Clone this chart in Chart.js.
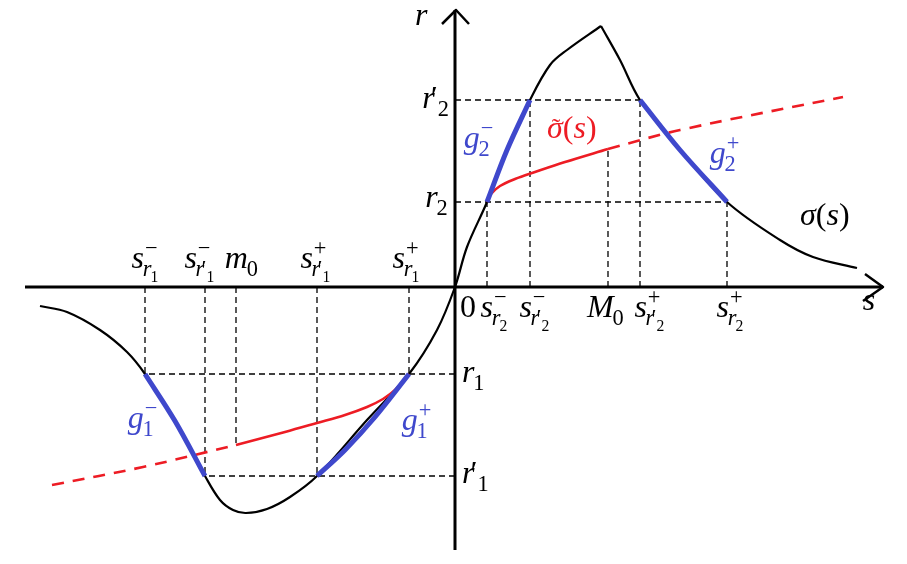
<!DOCTYPE html>
<html>
<head>
<meta charset="utf-8">
<script src="https://cdn.jsdelivr.net/npm/chart.js@4.4.1/dist/chart.umd.min.js"></script>
<style>
  html, body { margin: 0; padding: 0; background: #fff; }
  #wrap { width: 907px; height: 564px; position: relative; }
</style>
</head>
<body>
<div id="wrap"><canvas id="chart"></canvas></div>
<script>
// key abscissae on the s axis
const sR1m = -3.10, sR1pm = -2.50, m0 = -2.19, sR1pp = -1.38, sR1p = -0.46;
const sR2m = 0.32, sR2pm = 0.75, M0 = 1.53, sR2pp = 1.85, sR2p = 2.72;
// key levels on the r axis
const r1 = -0.87, r1p = -1.89, r2 = 0.85, r2p = 1.87;

// sigma(s), rising part up to the corner, then the falling tail
const sigmaRiseS = [-4.15, -3.88, -3.55, -3.28, sR1m, -2.80, sR1pm, -2.35, -2.22, -2.09, -1.88, -1.65, sR1pp, -0.88, sR1p, -0.18, 0, 0.12, sR2m, 0.52, sR2pm, 0.95, 1.12, 1.46];
const sigmaRiseR = [-0.19, -0.25, -0.43, -0.65, r1, -1.34, r1p, -2.13, -2.23, -2.26, -2.22, -2.10, r1p, -1.33, r1, -0.43, 0, 0.40, r2, 1.37, r2p, 2.22, 2.37, 2.61];
const sigmaFallS = [1.46, 1.65, sR2pp, 2.25, sR2p, 3.25, 3.58, 4.02];
const sigmaFallR = [2.61, 2.27, r2p, 1.37, r2, 0.47, 0.30, 0.19];

// the four branches g
const g1mS = [sR1m, -2.80, sR1pm];
const g1mR = [r1, -1.34, r1p];
const g1pS = [sR1pp, -1.10, -0.80, sR1p];
const g1pR = [r1p, -1.63, -1.30, r1];
const g2mS = [sR2m, 0.52, sR2pm];
const g2mR = [r2, 1.37, r2p];
const g2pS = [sR2pp, 2.25, sR2p];
const g2pR = [r2p, 1.37, r2];

// sigma tilde: solid pieces and dashed extensions
const tilLeftS = [m0, -1.70, sR1pp, -1.10, -0.88, -0.72, -0.60, sR1p];
const tilLeftR = [-1.58, -1.45, -1.36, -1.28, -1.20, -1.12, -1.03, r1];
const tilLeftDashS = [-4.03, -3.12, m0];
const tilLeftDashR = [-1.98, -1.80, -1.58];
const tilRightS = [sR2m, 0.36, 0.45, 0.60, 0.80, 1.10, M0];
const tilRightR = [r2, 0.93, 1.01, 1.08, 1.15, 1.25, 1.38];
const tilRightDashS = [M0, 2.25, 3.88];
const tilRightDashR = [1.38, 1.57, 1.90];

// dashed guides: vertical [s, r] and horizontal [r, s]
const guideV = [[sR1m, r1], [sR1pm, r1p], [m0, -1.58], [sR1pp, r1p], [sR1p, r1],
                [sR2m, r2], [sR2pm, r2p], [M0, 1.38], [sR2pp, r2p], [sR2p, r2]];
const guideH = [[r1, sR1m], [r1p, sR1pm], [r2p, sR2pp], [r2, sR2p]];

// axes
const sAxis = [-4.30, 4.28];
const rAxis = [-2.63, 2.77];

const BLACK = "#000", BLUE = "#3f48cc", RED = "#ed1c24";

function pts(xs, ys) { return xs.map((x, i) => ({ x: x, y: ys[i] })); }
function line(data, color, width, dash, order, smooth) {
    return {
        data: data, borderColor: color, borderWidth: width, borderDash: dash || [],
        showLine: true, pointRadius: 0, fill: false, order: order,
        tension: smooth ? 0.35 : 0,
        borderCapStyle: 'butt', borderJoinStyle: 'round', clip: false
    };
}

const datasets = [];
guideV.forEach(g => datasets.push(line([{ x: g[0], y: 0 }, { x: g[0], y: g[1] }], BLACK, 1.3, [6, 4], 5)));
guideH.forEach(g => datasets.push(line([{ x: 0, y: g[0] }, { x: g[1], y: g[0] }], BLACK, 1.3, [6, 4], 5)));
datasets.push(line([{ x: sAxis[0], y: 0 }, { x: sAxis[1], y: 0 }], BLACK, 3, [], 4));
datasets.push(line([{ x: 0, y: rAxis[0] }, { x: 0, y: rAxis[1] }], BLACK, 3, [], 4));
datasets.push(line([{ x: 4.10, y: 0.13 }, { x: sAxis[1], y: 0 }, { x: 4.08, y: -0.14 }], BLACK, 2.5, [], 4));
datasets.push(line([{ x: -0.13, y: 2.63 }, { x: 0.01, y: rAxis[1] }, { x: 0.14, y: 2.63 }], BLACK, 2.5, [], 4));
datasets.push(line(pts(sigmaRiseS, sigmaRiseR), BLACK, 2.2, [], 3, true));
datasets.push(line(pts(sigmaFallS, sigmaFallR), BLACK, 2.2, [], 3, true));
datasets.push(line(pts(tilLeftS, tilLeftR), RED, 2.6, [], 2, true));
datasets.push(line(pts(tilLeftDashS, tilLeftDashR), RED, 2.6, [12, 9], 2, true));
datasets.push(line(pts(tilRightS, tilRightR), RED, 2.6, [], 2, true));
datasets.push(line(pts(tilRightDashS, tilRightDashR), RED, 2.6, [12, 9], 2, true));
datasets.push(line(pts(g1mS, g1mR), BLUE, 5, [], 1, true));
datasets.push(line(pts(g1pS, g1pR), BLUE, 5, [], 1, true));
datasets.push(line(pts(g2mS, g2mR), BLUE, 5, [], 1, true));
datasets.push(line(pts(g2pS, g2pR), BLUE, 5, [], 1, true));

// math-like labels: tokens {t, it, sub, sup, tilde, kern}
const I = t => ({ t: t, it: true });
const sub = (tok, s, p) => Object.assign({}, tok, { sub: s, sup: p });
const prime = n => ({ t: '′', kern: -0.12, sub: [{ t: n }] });
const rp = n => [I('r'), prime(n)];
const labels = [
    { s: -0.40, r: 2.62, al: 'left', c: BLACK, toks: [I('r')] },
    { s: 4.14, r: -0.23, al: 'center', c: BLACK, toks: [I('s')] },
    { s: -0.06, r: 1.79, al: 'right', c: BLACK, toks: rp('2') },
    { s: -0.06, r: 0.80, al: 'right', c: BLACK, toks: [sub(I('r'), [{ t: '2' }])] },
    { s: 0.07, r: -0.95, al: 'left', c: BLACK, toks: [sub(I('r'), [{ t: '1' }])] },
    { s: 0.07, r: -1.96, al: 'left', c: BLACK, toks: rp('1') },
    { s: -3.09, r: 0.19, al: 'center', c: BLACK, toks: [sub(I('s'), [sub(I('r'), [{ t: '1' }])], [{ t: '−' }])] },
    { s: -2.55, r: 0.19, al: 'center', c: BLACK, toks: [sub(I('s'), rp('1'), [{ t: '−' }])] },
    { s: -2.13, r: 0.19, al: 'center', c: BLACK, toks: [sub(I('m'), [{ t: '0' }])] },
    { s: -1.39, r: 0.19, al: 'center', c: BLACK, toks: [sub(I('s'), rp('1'), [{ t: '+' }])] },
    { s: -0.48, r: 0.19, al: 'center', c: BLACK, toks: [sub(I('s'), [sub(I('r'), [{ t: '1' }])], [{ t: '+' }])] },
    { s: 0.13, r: -0.30, al: 'center', c: BLACK, toks: [{ t: '0' }] },
    { s: 0.40, r: -0.30, al: 'center', c: BLACK, toks: [sub(I('s'), [sub(I('r'), [{ t: '2' }])], [{ t: '−' }])] },
    { s: 0.80, r: -0.30, al: 'center', c: BLACK, toks: [sub(I('s'), rp('2'), [{ t: '−' }])] },
    { s: 1.51, r: -0.30, al: 'center', c: BLACK, toks: [sub(I('M'), [{ t: '0' }])] },
    { s: 1.95, r: -0.30, al: 'center', c: BLACK, toks: [sub(I('s'), rp('2'), [{ t: '+' }])] },
    { s: 2.76, r: -0.30, al: 'center', c: BLACK, toks: [sub(I('s'), [sub(I('r'), [{ t: '2' }])], [{ t: '+' }])] },
    { s: 3.45, r: 0.62, al: 'left', c: BLACK, toks: [I('σ'), { t: '(' }, I('s'), { t: ')' }] },
    { s: 0.92, r: 1.49, al: 'left', c: RED, toks: [Object.assign(I('σ'), { tilde: true }), { t: '(' }, I('s'), { t: ')' }] },
    { s: -3.13, r: -1.41, al: 'center', c: BLUE, toks: [sub(I('g'), [{ t: '1' }], [{ t: '−' }])] },
    { s: -0.39, r: -1.43, al: 'center', c: BLUE, toks: [sub(I('g'), [{ t: '1' }], [{ t: '+' }])] },
    { s: 0.23, r: 1.39, al: 'center', c: BLUE, toks: [sub(I('g'), [{ t: '2' }], [{ t: '−' }])] },
    { s: 2.69, r: 1.24, al: 'center', c: BLUE, toks: [sub(I('g'), [{ t: '2' }], [{ t: '+' }])] }
];

const FONT_SIZE = 32;
function fontFor(tok, size) {
    return (tok.it ? 'italic ' : '') + size.toFixed(1) + 'px "Liberation Serif", "DejaVu Serif", serif';
}
function tokWidth(ctx, tk, size) {
    ctx.font = fontFor(tk, size);
    const bw = ctx.measureText(tk.t).width + (tk.kern || 0) * size;
    const sw = tk.sub ? measure(ctx, tk.sub, size * 0.7) : 0;
    const pw = tk.sup ? measure(ctx, tk.sup, size * 0.7) : 0;
    return bw + Math.max(sw, pw);
}
function measure(ctx, toks, size) {
    return toks.reduce((w, tk) => w + tokWidth(ctx, tk, size), 0);
}
function drawToks(ctx, toks, x, y, size) {
    for (const tk of toks) {
        const k = (tk.kern || 0) * size;
        ctx.font = fontFor(tk, size);
        const bw = ctx.measureText(tk.t).width + k;
        ctx.fillText(tk.t, x + k, y);
        if (tk.tilde) {
            ctx.font = (size * 0.8).toFixed(1) + 'px "Liberation Serif", serif';
            ctx.fillText('˜', x + bw * 0.3, y - size * 0.06);
        }
        let sw = 0, pw = 0;
        if (tk.sub) sw = drawToks(ctx, tk.sub, x + bw - (tk.it ? size * 0.04 : 0), y + size * 0.26, size * 0.7) - (x + bw);
        if (tk.sup) pw = drawToks(ctx, tk.sup, x + bw + (tk.it ? size * 0.03 : 0), y - size * 0.42, size * 0.7) - (x + bw);
        x += bw + Math.max(sw, pw, 0);
    }
    return x;
}

const mathLabels = {
    id: 'mathLabels',
    afterDatasetsDraw(chart) {
        const ctx = chart.ctx, xs = chart.scales.x, ys = chart.scales.y;
        ctx.save();
        ctx.textBaseline = 'alphabetic';
        ctx.textAlign = 'left';
        for (const lb of labels) {
            const w = measure(ctx, lb.toks, FONT_SIZE);
            let px = xs.getPixelForValue(lb.s);
            if (lb.al === 'center') px -= w / 2;
            if (lb.al === 'right') px -= w;
            ctx.fillStyle = lb.c;
            drawToks(ctx, lb.toks, px, ys.getPixelForValue(lb.r), FONT_SIZE);
        }
        ctx.restore();
    }
};

new Chart(document.querySelector('#chart'), {
    type: 'scatter',
    data: { datasets: datasets },
    options: {
        responsive: true,
        maintainAspectRatio: false,
        animation: false,
        layout: { padding: 0 },
        plugins: { legend: { display: false }, tooltip: { enabled: false } },
        scales: {
            x: { type: 'linear', min: -4.55, max: 4.52, display: false },
            y: { type: 'linear', min: -2.77, max: 2.87, display: false }
        }
    },
    plugins: [mathLabels]
});
</script>
</body>
</html>
